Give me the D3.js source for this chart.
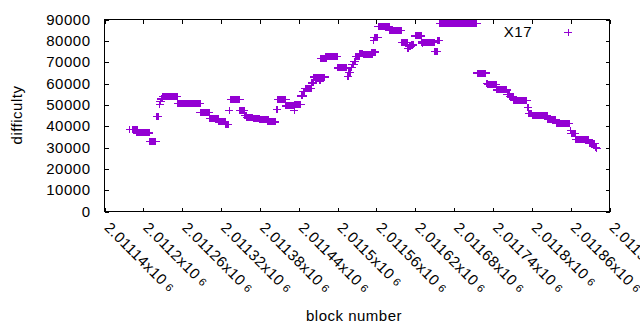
<!DOCTYPE html>
<html>
<head>
<meta charset="utf-8">
<script src="https://cdn.jsdelivr.net/npm/d3@7"></script>
<style>
  html, body { margin: 0; padding: 0; background: #fff; }
  svg { display: block; font-family: "Liberation Sans", Arial, sans-serif; }
</style>
</head>
<body>
<svg id="chart" width="640" height="330"></svg>
<script>
// series name + axis ticks
const seriesName = 'X17';
const xTicks = [2011140, 2011200, 2011260, 2011320, 2011380, 2011440, 2011500,
                2011560, 2011620, 2011680, 2011740, 2011800, 2011860, 2011920];
const xTickLabels = ['2.01114', '2.0112', '2.01126', '2.01132', '2.01138', '2.01144', '2.0115',
                     '2.01156', '2.01162', '2.01168', '2.01174', '2.0118', '2.01186', '2.01192'];
const yTicks = [0, 10000, 20000, 30000, 40000, 50000, 60000, 70000, 80000, 90000];

// difficulty runs: first block, last block, difficulty (single points have first == last)
const runStart = [2011179, 2011183, 2011190, 2011210, 2011221, 2011225, 2011226, 2011228, 2011230, 2011253,
                  2011288, 2011303, 2011317, 2011327, 2011333, 2011335, 2011349, 2011357, 2011360, 2011370,
                  2011379, 2011392, 2011406, 2011408, 2011420, 2011433, 2011434, 2011444, 2011447, 2011450,
                  2011460, 2011463, 2011472, 2011474, 2011482, 2011500, 2011516, 2011517, 2011521, 2011523,
                  2011526, 2011528, 2011534, 2011540, 2011553, 2011556, 2011557, 2011563, 2011580, 2011599,
                  2011608, 2011611, 2011614, 2011620, 2011630, 2011631, 2011650, 2011655, 2011658, 2011716,
                  2011731, 2011732, 2011746, 2011762, 2011766, 2011772, 2011794, 2011795, 2011801, 2011825,
                  2011838, 2011860, 2011861, 2011868, 2011889, 2011898, 2011900];
const runEnd   = [2011179, 2011190, 2011209, 2011219, 2011223, 2011225, 2011227, 2011229, 2011252, 2011288,
                  2011302, 2011316, 2011326, 2011331, 2011333, 2011349, 2011356, 2011359, 2011369, 2011379,
                  2011393, 2011404, 2011407, 2011420, 2011432, 2011433, 2011443, 2011446, 2011449, 2011459,
                  2011462, 2011480, 2011473, 2011482, 2011499, 2011514, 2011516, 2011519, 2011522, 2011525,
                  2011527, 2011534, 2011539, 2011553, 2011558, 2011556, 2011562, 2011580, 2011598, 2011607,
                  2011610, 2011613, 2011617, 2011629, 2011649, 2011631, 2011654, 2011657, 2011715, 2011729,
                  2011731, 2011745, 2011761, 2011765, 2011771, 2011792, 2011794, 2011800, 2011824, 2011837,
                  2011858, 2011860, 2011867, 2011888, 2011897, 2011899, 2011900];
const runDiff  = [38400, 38600, 36800, 32800, 44500, 50200, 51600, 52800, 53900, 50500,
                  46300, 43600, 42000, 40900, 47300, 52400, 47300, 45000, 44200, 43400,
                  43000, 42000, 47700, 52400, 49500, 47300, 50000, 54200, 56300, 57500,
                  60300, 63000, 61200, 71700, 72600, 67300, 63300, 65300, 67500, 68800,
                  70300, 72700, 74000, 73600, 74700, 80200, 81700, 86600, 85000, 79100,
                  76300, 77200, 78100, 82300, 79400, 78600, 75100, 80100, 88000, 64900,
                  60100, 59400, 57000, 54800, 53800, 52000, 48900, 46100, 44900, 43000,
                  41400, 38000, 36600, 33600, 32000, 30000, 29400];

const COLOR = '#9400d3';
const M = { left: 104.5, right: 609.5, top: 19.5, bottom: 211.5 };

const svg = d3.select('#chart');
const x = d3.scaleLinear().domain([2011140, 2011920]).range([M.left, M.right]);
const y = d3.scaleLinear().domain([0, 90000]).range([M.bottom, M.top]);

const fontSize = 15;
const txt = (sel) => sel.attr('font-size', fontSize).attr('letter-spacing', 0.5).attr('fill', '#000');

// axes, ticks pointing inward, mirrored on top/right
const axes = svg.append('g').attr('shape-rendering', 'crispEdges');

const gx = axes.append('g').attr('transform', `translate(0,${M.bottom})`)
  .call(d3.axisBottom(x).tickValues(xTicks).tickSize(-4).tickSizeOuter(0)
    .tickFormat((d, i) => xTickLabels[i]));
axes.append('g').attr('transform', `translate(0,${M.top})`)
  .call(d3.axisTop(x).tickValues(xTicks).tickSize(-4).tickSizeOuter(0).tickFormat(''));
const gy = axes.append('g').attr('transform', `translate(${M.left},0)`)
  .call(d3.axisLeft(y).tickValues(yTicks).tickSize(-4).tickSizeOuter(0).tickPadding(14)
    .tickFormat(d3.format('d')));
axes.append('g').attr('transform', `translate(${M.right},0)`)
  .call(d3.axisRight(y).tickValues(yTicks).tickSize(-4).tickSizeOuter(0).tickFormat(''));

axes.selectAll('.domain').remove();
axes.selectAll('.tick line').attr('stroke', '#000');

gy.selectAll('text').call(txt).attr('font-family', null);

// x labels: rotated, with the exponent set small after a gap
gx.selectAll('.tick text').each(function (d, i) {
  const t = d3.select(this).text(null)
    .attr('y', null).attr('dy', null)
    .attr('font-family', null)
    .attr('text-anchor', 'start')
    .attr('transform', 'translate(-1.5,17) rotate(45)');
  txt(t);
  t.append('tspan').text(xTickLabels[i] + 'x10');
  t.append('tspan').attr('dx', 4).attr('dy', -1).attr('font-size', 11).text('6');
});

// border
svg.append('rect')
  .attr('x', M.left).attr('y', M.top)
  .attr('width', M.right - M.left).attr('height', M.bottom - M.top)
  .attr('fill', 'none').attr('stroke', '#000').attr('shape-rendering', 'crispEdges');

// points
const plot = svg.append('g').attr('shape-rendering', 'crispEdges');
const runs = runStart.map((s, i) => ({ s, e: runEnd[i], v: runDiff[i] }));

plot.selectAll('rect').data(runs.filter(r => r.e > r.s)).join('rect')
  .attr('x', d => x(d.s) - 0.5)
  .attr('width', d => x(d.e) - x(d.s) + 1)
  .attr('y', d => y(d.v) - 3.5)
  .attr('height', 7)
  .attr('fill', COLOR);

const marks = runs.flatMap(r => r.e > r.s ? [[r.s, r.v], [r.e, r.v]] : [[r.s, r.v]]);
const plus = (px, py) => `M${px - 4},${py}h8M${px},${py - 3.5}v7`;
plot.selectAll('path').data(marks).join('path')
  .attr('d', d => plus(x(d[0]), y(d[1])))
  .attr('fill', 'none').attr('stroke', COLOR).attr('stroke-width', 1.3);

// legend
svg.append('text').attr('x', 532).attr('y', 37).attr('text-anchor', 'end')
  .call(txt).text(seriesName);
svg.append('path').attr('d', plus(568, 32.5))
  .attr('fill', 'none').attr('stroke', COLOR).attr('shape-rendering', 'crispEdges');

// axis titles
svg.append('text').attr('x', 354).attr('y', 321).attr('text-anchor', 'middle')
  .call(txt).text('block number');
svg.append('text').attr('transform', 'translate(22,115) rotate(-90)')
  .attr('text-anchor', 'middle').call(txt).text('difficulty');
</script>
</body>
</html>
